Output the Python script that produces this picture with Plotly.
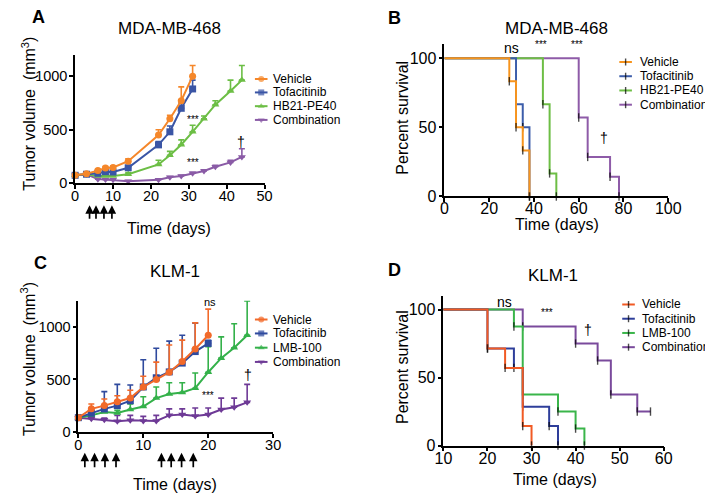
import plotly.graph_objects as go

W, H = 713, 493
FONT = "Liberation Sans, Arial, sans-serif"

# ---------------- Panel A : MDA-MB-468 tumor volume ----------------
a_days = [0, 3, 6, 8, 10, 14, 22, 25, 28, 31, 34, 37, 41, 44]
a_vehicle = [70, 85, 114, 138, 144, 203, 449, 602, 771, 1002]
a_vehicle_err = [8, 12, 12, 14, 15, 22, 50, 32, 130, 100]
a_tofa = [70, 80, 89, 104, 101, 141, 356, 479, 700, 882]
a_tofa_err = [8, 10, 10, 12, 12, 12, 31, 55, 50, 83]
a_hb21 = [70, 80, 64, 64, 64, 80, 172, 258, 357, 479, 602, 734, 863, 965]
a_hb21_err = [8, 10, 12, 12, 12, 15, 40, 37, 46, 62, 25, 37, 102, 138]
a_combo = [70, 80, 34, 30, 28, 15, 28, 52, 64, 89, 111, 150, 191, 243]
a_combo_err = [8, 8, 6, 6, 6, 5, 5, 6, 6, 10, 10, 15, 21, 77]
a_dose_days = [3.8, 5.5, 7.6, 9.7]
a_names = ["Vehicle", "Tofacitinib", "HB21-PE40", "Combination"]

# ---------------- Panel B : MDA-MB-468 survival ----------------
b_vehicle_t = [0, 29, 32, 35, 38]
b_vehicle_s = [100, 83.3, 50, 33.3, 0]
b_tofa_t = [0, 32, 35, 38]
b_tofa_s = [100, 66.7, 50, 0]
b_hb21_t = [0, 44, 47, 50]
b_hb21_s = [100, 66.7, 16.7, 0]
b_combo_t = [0, 60, 64, 74, 78]
b_combo_s = [100, 57.1, 28.6, 14.3, 0]

# ---------------- Panel C : KLM-1 tumor volume ----------------
c_days = [0, 2, 4, 6, 8, 10, 12, 14, 16, 18, 20, 22, 24, 26]
c_vehicle = [135, 219, 250, 288, 322, 428, 500, 569, 672, 791, 922]
c_vehicle_err = [20, 47, 63, 56, 75, 103, 165, 259, 203, 249, 249]
c_tofa = [135, 178, 219, 250, 297, 428, 516, 572, 656, 766, 844]
c_tofa_err = [20, 41, 165, 203, 150, 260, 281, 294, 266, 271, 30]
c_lmb = [135, 157, 188, 180, 213, 241, 322, 360, 375, 416, 569, 703, 803, 922]
c_lmb_err = [15, 20, 25, 25, 53, 94, 106, 109, 94, 146, 244, 203, 228, 328]
c_combo = [135, 125, 116, 100, 110, 103, 103, 157, 166, 150, 166, 213, 234, 281]
c_combo_err = [10, 10, 15, 57, 47, 44, 54, 62, 53, 78, 62, 109, 88, 172]
c_dose_days = [1.0, 2.5, 4.1, 5.8, 12.8, 14.3, 15.9, 17.7]
c_names = ["Vehicle", "Tofacitinib", "LMB-100", "Combination"]

# ---------------- Panel D : KLM-1 survival ----------------
d_vehicle_t = [0, 20, 24, 28, 30]
d_vehicle_s = [100, 71.4, 57.1, 14.3, 0]
d_tofa_t = [0, 20, 26, 28, 34, 36]
d_tofa_s = [100, 71.4, 57.1, 28.6, 14.3, 0]
d_lmb_t = [0, 26, 28, 36, 40, 42]
d_lmb_s = [100, 87.5, 37.5, 25, 12.5, 0]
d_combo_t = [0, 28, 40, 45, 48, 54, 57]
d_combo_s = [100, 87.5, 75, 62.5, 37.5, 25, 25]

# colours
A_COL = ["#F5872A", "#3A55A5", "#6CBE45", "#8A5BA6"]
B_COL = ["#F7941D", "#3C5DAA", "#6DBE45", "#8E5BA8"]
C_COL = ["#F26A2A", "#2F4A9E", "#34B14A", "#6E3A96"]
D_COL = ["#F15A24", "#2E3E9A", "#3AB54A", "#7A4A9C"]
SYMS = ["circle", "square", "triangle-up", "triangle-down"]


def px(x):
    return x / W


def py(y):
    return 1 - y / H


fig = go.Figure()


def tumor(x, y, err, color, symbol, xa, ya):
    fig.add_trace(go.Scatter(
        x=x[:len(y)], y=y, mode="lines+markers",
        line=dict(color=color, width=2),
        marker=dict(symbol=symbol, size=7, color=color),
        error_y=dict(type="data", symmetric=False, array=err,
                     arrayminus=[0] * len(err), color=color,
                     thickness=1.6, width=3),
        xaxis=xa, yaxis=ya, cliponaxis=False, showlegend=False))


def surv(t, s, color, xa, ya):
    fig.add_trace(go.Scatter(
        x=t, y=s, mode="lines+markers",
        line=dict(color=color, width=2, shape="hv"),
        marker=dict(symbol="line-ns", size=[0] + [6] * (len(t) - 1),
                    color="black", line=dict(color="black", width=1.4)),
        xaxis=xa, yaxis=ya, cliponaxis=False, showlegend=False))


# Panel A (draw order: combo, green, blue, orange)
tumor(a_days, a_combo, a_combo_err, A_COL[3], SYMS[3], "x", "y")
tumor(a_days, a_hb21, a_hb21_err, A_COL[2], SYMS[2], "x", "y")
tumor(a_days, a_tofa, a_tofa_err, A_COL[1], SYMS[1], "x", "y")
tumor(a_days, a_vehicle, a_vehicle_err, A_COL[0], SYMS[0], "x", "y")

# Panel B
surv(b_combo_t, b_combo_s, B_COL[3], "x2", "y2")
surv(b_hb21_t, b_hb21_s, B_COL[2], "x2", "y2")
surv(b_tofa_t, b_tofa_s, B_COL[1], "x2", "y2")
surv(b_vehicle_t, b_vehicle_s, B_COL[0], "x2", "y2")

# Panel C
tumor(c_days, c_combo, c_combo_err, C_COL[3], SYMS[3], "x3", "y3")
tumor(c_days, c_lmb, c_lmb_err, C_COL[2], SYMS[2], "x3", "y3")
tumor(c_days, c_tofa, c_tofa_err, C_COL[1], SYMS[1], "x3", "y3")
tumor(c_days, c_vehicle, c_vehicle_err, C_COL[0], SYMS[0], "x3", "y3")

# Panel D
surv(d_combo_t, d_combo_s, D_COL[3], "x4", "y4")
surv(d_lmb_t, d_lmb_s, D_COL[2], "x4", "y4")
surv(d_tofa_t, d_tofa_s, D_COL[1], "x4", "y4")
surv(d_vehicle_t, d_vehicle_s, D_COL[0], "x4", "y4")

annotations = []


def legend(cx, tx, rows, names, cols, survival):
    for cy, name, col, sym in zip(rows, names, cols, SYMS):
        if survival:
            msym, msize, mcol = "line-ns", [0, 5, 0], "black"
        else:
            msym, msize, mcol = sym, [0, 6, 0], col
        fig.add_trace(go.Scatter(
            x=[cx - 6.5, cx, cx + 6.5], y=[cy, cy, cy], mode="lines+markers",
            line=dict(color=col, width=2),
            marker=dict(symbol=msym, size=msize, color=mcol,
                        line=dict(color="black", width=1.4 if survival else 0)),
            xaxis="x5", yaxis="y5", showlegend=False, hoverinfo="skip"))
        annotations.append(dict(x=px(tx), y=py(cy), xref="paper", yref="paper",
                                text=name, showarrow=False, xanchor="left",
                                yanchor="middle", font=dict(size=12)))


legend(252, 262, [72.3, 86, 100, 114], a_names, A_COL, False)
legend(628, 641, [55, 69.5, 84, 98.5], a_names, B_COL, True)
legend(252, 262, [317.3, 331.5, 346, 360.5], c_names, C_COL, False)
legend(631, 643, [302, 316.5, 331, 345.5], c_names, D_COL, True)


def text(x, y, s, size, **kw):
    annotations.append(dict(x=px(x), y=py(y), xref="paper", yref="paper",
                            text=s, showarrow=False, xanchor="center",
                            yanchor="middle", font=dict(size=size, color="black"), **kw))


# panel letters
for lx, ly, lt in [(22, 9, "A"), (390, 10, "B"), (24, 260, "C"), (390, 267, "D")]:
    text(lx, ly, "<b>" + lt + "</b>", 18)

# titles
text(157, 21, "MDA-MB-468", 17)
text(557, 21, "MDA-MB-468", 17)
text(163, 268, "KLM-1", 17)
text(553, 272, "KLM-1", 17)

# axis titles
text(157, 225, "Time (days)", 16)
text(557, 221, "Time (days)", 16)
text(163, 485, "Time (days)", 16)
text(555, 480, "Time (days)", 16)
text(12, 108, "Tumor volume  (mm<sup>3</sup>)", 16, textangle=-90)
text(398, 112, "Percent survival", 16, textangle=-90)
text(12, 358, "Tumor volume  (mm<sup>3</sup>)", 16, textangle=-90)
text(398, 366, "Percent survival", 16, textangle=-90)


def mark(x, y, s, size, xr, yr):
    annotations.append(dict(x=x, y=y, xref=xr, yref=yr, text=s, showarrow=False,
                            xanchor="center", yanchor="middle",
                            font=dict(size=size, color="black")))


# significance marks (data coordinates)
mark(31.1, 591, "***", 10, "x", "y")
mark(31.1, 191, "***", 10, "x", "y")
mark(43.7, 381, "†", 14, "x", "y")
mark(29.9, 107.4, "ns", 14, "x2", "y2")
mark(43.3, 110, "***", 10, "x2", "y2")
mark(59.2, 110, "***", 10, "x2", "y2")
mark(71.4, 42, "†", 14, "x2", "y2")
mark(20.2, 1241, "ns", 11, "x3", "y3")
mark(19.9, 344, "***", 10, "x3", "y3")
mark(26.1, 547, "†", 14, "x3", "y3")
mark(23.8, 105.2, "ns", 14, "x4", "y4")
mark(33.6, 97.9, "***", 10, "x4", "y4")
mark(42.8, 84.7, "†", 14, "x4", "y4")

# dosing arrows
for d in a_dose_days:
    annotations.append(dict(x=d, y=py(201), xref="x", yref="paper", text="",
                            showarrow=True, ax=0, ay=15, arrowhead=2, arrowsize=1,
                            arrowwidth=1.7, arrowcolor="black"))
for d in c_dose_days:
    annotations.append(dict(x=d, y=py(453), xref="x3", yref="paper", text="",
                            showarrow=True, ax=0, ay=16, arrowhead=2, arrowsize=1,
                            arrowwidth=1.7, arrowcolor="black"))


def axis(fs, standoff):
    return dict(showline=True, linecolor="black", linewidth=1.6, ticks="outside",
                ticklen=4, tickwidth=1.5, tickcolor="black", showgrid=False,
                zeroline=False, tickfont=dict(size=fs, color="black"),
                ticklabelstandoff=standoff, fixedrange=True)


fig.update_layout(
    width=W, height=H, margin=dict(l=0, r=0, t=0, b=0),
    paper_bgcolor="white", plot_bgcolor="rgba(0,0,0,0)",
    font=dict(family=FONT, color="black"),
    showlegend=False,
    xaxis=dict(domain=[px(60), px(255.5)], range=[0, 50], tickvals=[0, 10, 20, 30, 40, 50],
               anchor="y", **axis(14.5, -5)),
    yaxis=dict(domain=[py(178), py(48)], range=[0, 1200], tickvals=[0, 500, 1000],
               anchor="x", **axis(14.5, -1)),
    xaxis2=dict(domain=[px(441), px(672)], range=[0, 100], tickvals=[0, 20, 40, 60, 80, 100],
                anchor="y2", **axis(16, -7)),
    yaxis2=dict(domain=[py(192), py(37)], range=[0, 110], tickvals=[0, 50, 100],
                anchor="x2", **axis(16, -1)),
    xaxis3=dict(domain=[px(63.3), px(264.3)], range=[0, 30], tickvals=[0, 10, 20, 30],
                anchor="y3", **axis(14.5, -5)),
    yaxis3=dict(domain=[py(431.7), py(298.3)], range=[0, 1250], tickvals=[0, 500, 1000],
                anchor="x3", **axis(14.5, -1)),
    xaxis4=dict(domain=[px(440), px(667.3)], range=[10, 60], tickvals=[10, 20, 30, 40, 50, 60],
                anchor="y4", **axis(16, -7)),
    yaxis4=dict(domain=[py(445.7), py(293.3)], range=[0, 110], tickvals=[0, 50, 100],
                anchor="x4", **axis(16, -1)),
    xaxis5=dict(domain=[0, 1], range=[0, W], visible=False, anchor="y5", fixedrange=True),
    yaxis5=dict(domain=[0, 1], range=[H, 0], visible=False, anchor="x5", fixedrange=True),
    annotations=annotations,
)

fig.write_html("out.html")
